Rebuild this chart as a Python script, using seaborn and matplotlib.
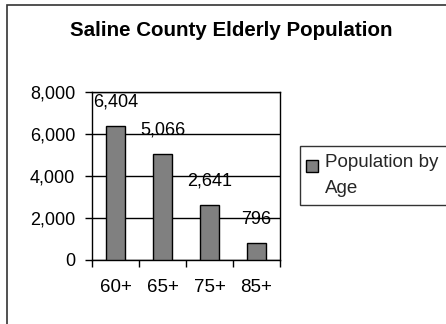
import matplotlib
matplotlib.use("Agg")
import matplotlib.pyplot as plt
import seaborn as sns
import pandas as pd
from matplotlib.patches import Rectangle
from matplotlib.ticker import FuncFormatter, FixedLocator

age_groups = ["60+", "65+", "75+", "85+"]
population = [6404, 5066, 2641, 796]
series_name = "Population by\nAge"
title = "Saline County Elderly Population"

df = pd.DataFrame({"Age": age_groups, "Population": population})

sns.set_theme(style="white")
plt.rcParams["font.family"] = ["Liberation Sans", "DejaVu Sans"]

W, H = 446, 324
fig = plt.figure(figsize=(W / 100, H / 100), dpi=100)
fig.patch.set_facecolor("white")

# outer chart frame
fig.patches.append(Rectangle((7 / W, -0.1), 1.2, 1 - 5 / H + 0.1,
                             transform=fig.transFigure, fill=False,
                             edgecolor="#333333", linewidth=1.2))

ax = fig.add_axes([92 / W, (H - 260) / H, 188 / W, 168 / H])
sns.barplot(data=df, x="Age", y="Population", color="#808080",
            edgecolor="black", linewidth=1.0, width=0.4, saturation=1,
            ax=ax, zorder=3, label=series_name)

ax.set_xlim(-0.5, 3.5)
ax.set_ylim(0, 8000)
ax.set_yticks([0, 2000, 4000, 6000, 8000])
ax.yaxis.set_major_formatter(FuncFormatter(lambda v, p: f"{int(v):,}"))
ax.grid(axis="y", color="black", linewidth=1.0, zorder=0)
ax.set_xlabel("")
ax.set_ylabel("")

# category boundary ticks on x, labels centred beneath bars
ax.xaxis.set_minor_locator(FixedLocator([-0.5, 0.5, 1.5, 2.5, 3.5]))
ax.tick_params(axis="x", which="major", length=0, pad=14, labelsize=13.5,
               colors="black")
ax.tick_params(axis="x", which="minor", length=5, width=1, color="black",
               direction="out", bottom=True)
ax.tick_params(axis="y", length=5, width=1, color="black", direction="out",
               left=True, labelsize=13, pad=7, labelcolor="black")

for s in ax.spines.values():
    s.set_visible(True)
    s.set_color("black")
    s.set_linewidth(1.0)

for c in ax.containers:
    ax.bar_label(c, labels=[f"{v:,}" for v in population], padding=11,
                 fontsize=13, color="black")

fig.text(231 / W, 1 - 30 / H, title, ha="center", va="center",
         fontsize=14.8, fontweight="bold", color="black")

leg = ax.legend(loc="upper left", bbox_to_anchor=(300 / W, 1 - 146 / H),
                bbox_transform=fig.transFigure, borderaxespad=0,
                fancybox=False, frameon=True, fontsize=13.5,
                handlelength=0.6, handleheight=0.6, handletextpad=0.3,
                borderpad=0.45, labelspacing=0.2)
leg.get_frame().set_edgecolor("black")
leg.get_frame().set_linewidth(1.0)
for t in leg.get_texts():
    t.set_linespacing(1.65)
# keep the swatch level with the first line of the label
sw = leg.legend_handles[0]
sw.set_y(sw.get_y() + 7)
sw.set_x(sw.get_x() - 1.5)

fig.savefig("out.png", dpi=100)
